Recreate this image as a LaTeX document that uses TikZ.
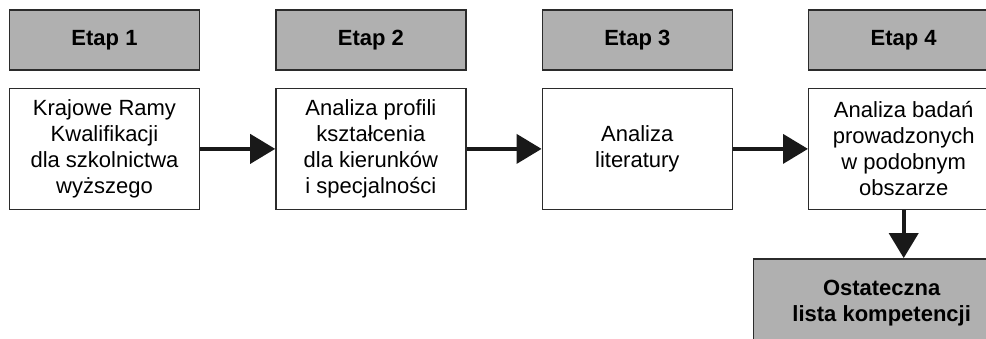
\documentclass[tikz,border=0pt]{standalone}
\usepackage{fontspec}
\setmainfont{Liberation Sans}
\usepackage{tikz}
\usetikzlibrary{arrows.meta, positioning}
\definecolor{headgray}{HTML}{B0B0B0}
\definecolor{edgegray}{HTML}{2B2B2B}

\begin{document}
\begin{tikzpicture}[
    x=1pt, y=1pt,
    node distance=17pt and 75pt,
    head/.style={rectangle, draw=edgegray, line width=1.4pt, fill=headgray, minimum width=190pt, minimum height=60pt, align=center, font=\fontsize{22}{26}\selectfont\bfseries},
    box/.style={rectangle, draw=edgegray, line width=1.4pt, fill=white, minimum width=190pt, minimum height=121pt, align=center, font=\fontsize{22}{26}\selectfont},
    arrow/.style={-{Triangle[length=25pt, width=29pt]}, line width=4pt, draw=black!90},
]
\useasboundingbox (0,0) rectangle (986,338);
\clip (0,0) rectangle (986,338);

\node[head] (e1) at (104.5,298) {Etap 1};
\node[head, right=of e1] (e2) {Etap 2};
\node[head, right=of e2] (e3) {Etap 3};
\node[head, right=of e3] (e4) {Etap 4};

\node[box, below=of e1] (k1) {Krajowe Ramy\\Kwalifikacji\\dla szkolnictwa\\wyższego};
\node[box, below=of e2] (k2) {Analiza profili\\kształcenia\\dla kierunków\\i specjalności};
\node[box, below=of e3] (k3) {Analiza\\literatury};
\node[box, below=of e4] (k4) {Analiza badań\\prowadzonych\\w podobnym\\obszarze};

\node[head, below=48pt of k4, xshift=-22pt, minimum width=256pt, minimum height=88pt] (final) {Ostateczna\\lista kompetencji};

\draw[arrow] (k1) -- (k2);
\draw[arrow] (k2) -- (k3);
\draw[arrow] (k3) -- (k4);
\draw[arrow] (k4.south) -- (k4.south |- final.north);

\end{tikzpicture}
\end{document}
